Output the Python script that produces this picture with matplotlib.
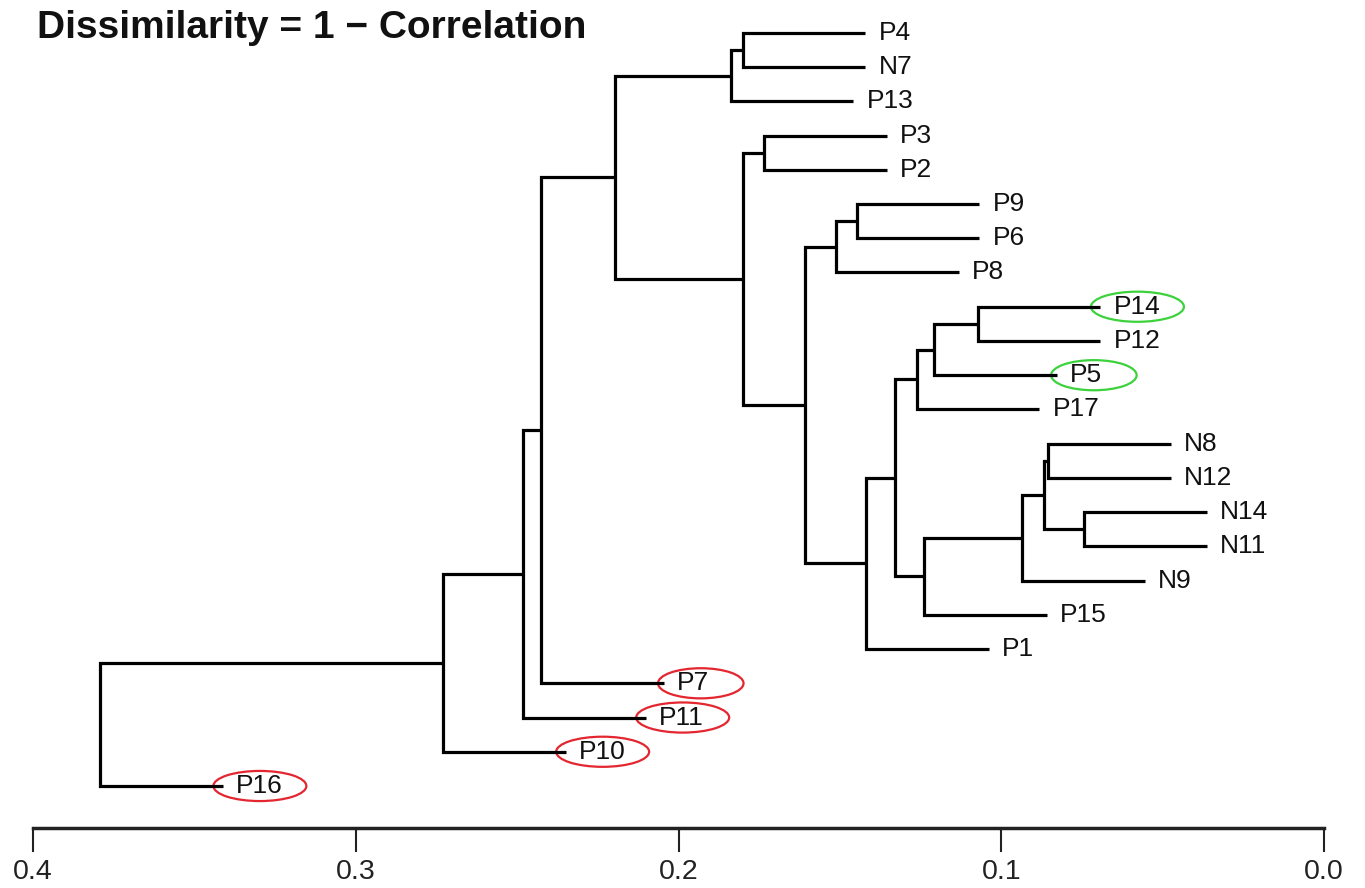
import matplotlib
matplotlib.use("Agg")
import matplotlib.pyplot as plt
from matplotlib.patches import Ellipse

plt.rcParams["font.family"] = ["Liberation Sans", "DejaVu Sans"]

# leaf order, top to bottom
leaf_labels = ["P4", "N7", "P13", "P3", "P2", "P9", "P6", "P8", "P14", "P12", "P5", "P17",
               "N8", "N12", "N14", "N11", "N9", "P15", "P1", "P7", "P11", "P10", "P16"]

# merges (ints refer to earlier merges, 1-based like R's hclust)
merge_a = ["P4", 1, "P3", "P9", 4, "P14", 6, 7, "N8", "N14", 9, 11, 12, 8, 14, 5, 3, 2, 18, 19, 20, 21]
merge_b = ["N7", "P13", "P2", "P6", "P8", "P12", "P5", "P17", "N12", "N11", 10, "N9", "P15", 13,
           "P1", 15, 16, 17, "P7", "P11", "P10", "P16"]
merge_height = [0.1801, 0.1838, 0.1735, 0.1448, 0.1512, 0.1073, 0.1208, 0.1262, 0.0855, 0.0744, 0.0868,
                0.0936, 0.1239, 0.1329, 0.1419, 0.1608, 0.1800, 0.2197, 0.2426, 0.2482, 0.2730, 0.3792]
hang = 0.038

red_leaves = ["P7", "P11", "P10", "P16"]
green_leaves = ["P14", "P5"]

xticks = [0.4, 0.3, 0.2, 0.1, 0.0]

n = len(leaf_labels)
leaf_y = {lab: n - i for i, lab in enumerate(leaf_labels)}

fig = plt.figure(figsize=(13.65, 8.88), dpi=100)
ax = fig.add_axes([33 / 1365, 60 / 888, 1291 / 1365, 828 / 888])

node_y = {}
leaf_end = {}
lw = 2.3


def child_pos(c, h):
    # (x, y) where the child's branch ends
    if isinstance(c, int):
        return merge_height[c - 1], node_y[c]
    x = h - hang
    leaf_end[c] = x
    return x, leaf_y[c]


for k, (a, b, h) in enumerate(zip(merge_a, merge_b, merge_height), start=1):
    xa, ya = child_pos(a, h)
    xb, yb = child_pos(b, h)
    ax.plot([xa, h, h, xb], [ya, ya, yb, yb], color="black", lw=lw, solid_joinstyle="miter",
            solid_capstyle="butt")
    node_y[k] = (ya + yb) / 2

for lab in leaf_labels:
    x = leaf_end[lab]
    ax.annotate(lab, (x, leaf_y[lab]), xytext=(9.5, 0), textcoords="offset points",
                ha="left", va="center", fontsize=19, color="#111111")
    if lab in red_leaves or lab in green_leaves:
        col = "#e3262f" if lab in red_leaves else "#3cd23c"
        w = 0.0288 if len(lab) == 3 else 0.0265
        e = Ellipse((x - 0.0115, leaf_y[lab]), w, 0.88, fill=False, edgecolor=col, lw=1.6)
        ax.add_patch(e)

ax.set_xlim(0.4, 0.0)
ax.set_ylim(-0.227, 23.96)
for s in ["top", "right", "left"]:
    ax.spines[s].set_visible(False)
ax.spines["bottom"].set_linewidth(2.5)
ax.spines["bottom"].set_color("#222222")
ax.set_yticks([])
ax.set_xticks(xticks)
ax.set_xticklabels([f"{t:.1f}" for t in xticks], fontsize=20.5, color="#222222")
ax.tick_params(axis="x", length=17, width=1.5, pad=5, color="#222222")

fig.text(37 / 1365, 1 - 38 / 888, "Dissimilarity = 1 \u2212 Correlation", fontsize=28,
         fontweight="bold", va="baseline", ha="left", color="#111111")

fig.savefig("out.png", dpi=100)
